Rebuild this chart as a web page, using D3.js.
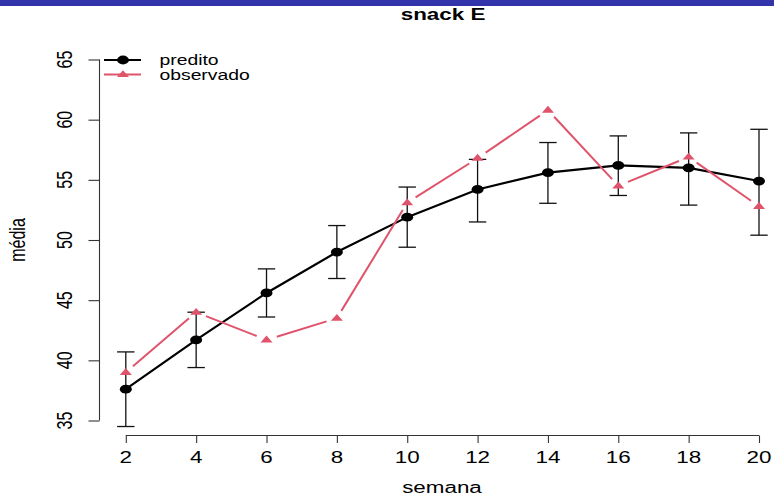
<!DOCTYPE html>
<html>
<head>
<meta charset="utf-8">
<script src="https://cdn.jsdelivr.net/npm/d3@7"></script>
<style>
  body { margin: 0; background: #fff; }
  svg { display: block; font-family: "Liberation Sans", Arial, Helvetica, sans-serif; }
</style>
</head>
<body>
<div id="chart"></div>
<script>
// data
const semana = [2, 4, 6, 8, 10, 12, 14, 16, 18, 20];
const predito = [37.6, 41.7, 45.6, 49.0, 51.9, 54.2, 55.6, 56.2, 56.0, 54.9];
const observado = [39.0, 44.0, 41.7, 43.5, 53.1, 56.8, 60.8, 54.5, 56.9, 52.8];
const inferior = [34.5, 39.4, 43.6, 46.8, 49.4, 51.5, 53.05, 53.7, 52.9, 50.4];
const superior = [40.7, 44.0, 47.6, 51.2, 54.4, 56.7, 58.1, 58.65, 58.9, 59.2];
const yTicks = [35, 40, 45, 50, 55, 60, 65];

const width = 774, height = 495;
const sx = 1.4; // the picture is stretched sideways
const red = "#DF536B";

const svg = d3.select("#chart").append("svg")
    .attr("width", width)
    .attr("height", height);

// blue strip on top
svg.append("rect").attr("x", 0).attr("y", 0).attr("width", width).attr("height", 6).attr("fill", "#3333AA");

const x = d3.scaleLinear().domain([2, 20]).range([125.8, 759]);
const y = d3.scaleLinear().domain([35, 65]).range([420.5, 59.5]);

function label(txt, px, py, size, opts = {}) {
    const t = svg.append("text")
        .attr("transform", `translate(${px},${py}) scale(${opts.sx || sx},1)` + (opts.rot ? " rotate(-90)" : ""))
        .attr("text-anchor", opts.anchor || "middle")
        .attr("font-size", size)
        .attr("fill", "#000")
        .text(txt);
    if (opts.bold) t.attr("font-weight", "bold");
    return t;
}

// title
label("snack E", 443, 20, 16, { bold: true });

// axes
const xAxis = svg.append("g").attr("transform", "translate(0,435.5)")
    .call(d3.axisBottom(x).tickValues(semana).tickSize(7.5).tickFormat(""));
const yAxis = svg.append("g").attr("transform", "translate(99.5,0)")
    .call(d3.axisLeft(y).tickValues(yTicks).tickSize(11).tickFormat(""));
[xAxis, yAxis].forEach(a => {
    a.select(".domain").attr("stroke", "#333").attr("stroke-width", 1.1)
        .attr("d", a === xAxis ? `M${x(2)},0H${x(20)}` : `M0,${y(35)}V${y(65)}`);
    a.selectAll(".tick line").attr("stroke", "#333").attr("stroke-width", 1.1);
});

semana.forEach(s => label(String(s), x(s), 463, 16));
yTicks.forEach(v => label(String(v), 71.5, y(v), 16, { rot: true }));

label("semana", 442, 493, 16);
label("média", 25, 240, 16, { rot: true });

// error bars
const cap = 8.7;
semana.forEach((s, i) => {
    const g = svg.append("g").attr("stroke", "#111").attr("stroke-width", 1.3).attr("fill", "none");
    g.append("line").attr("x1", x(s)).attr("x2", x(s)).attr("y1", y(inferior[i])).attr("y2", y(superior[i]));
    g.append("line").attr("x1", x(s) - cap).attr("x2", x(s) + cap).attr("y1", y(inferior[i])).attr("y2", y(inferior[i]));
    g.append("line").attr("x1", x(s) - cap).attr("x2", x(s) + cap).attr("y1", y(superior[i])).attr("y2", y(superior[i]));
});

// predito: line through points
svg.append("path")
    .datum(semana.map((s, i) => [x(s), y(predito[i])]))
    .attr("d", d3.line())
    .attr("fill", "none").attr("stroke", "#000").attr("stroke-width", 2.2);

// observado: line with gaps around points (type "b")
const gap = 8;
const obsPts = semana.map((s, i) => [x(s), y(observado[i])]);
for (let i = 0; i < obsPts.length - 1; i++) {
    const [x0, y0] = obsPts[i], [x1, y1] = obsPts[i + 1];
    const ux = (x1 - x0) / sx, uy = y1 - y0;
    const len = Math.hypot(ux, uy);
    const fx = ux / len * gap * sx, fy = uy / len * gap;
    svg.append("line")
        .attr("x1", x0 + fx).attr("y1", y0 + fy)
        .attr("x2", x1 - fx).attr("y2", y1 - fy)
        .attr("stroke", red).attr("stroke-width", 2);
}

function tri(cx, cy) {
    return `M${cx},${cy - 4.3}L${cx + 6},${cy + 2.6}L${cx - 6},${cy + 2.6}Z`;
}

svg.selectAll("ellipse.pred").data(semana).enter().append("ellipse")
    .attr("cx", s => x(s)).attr("cy", (s, i) => y(predito[i]))
    .attr("rx", 6).attr("ry", 4.4).attr("fill", "#000");

svg.selectAll("path.obs").data(semana).enter().append("path")
    .attr("d", (s, i) => tri(x(s), y(observado[i])))
    .attr("fill", red);

// legend
const lg = [{ name: "predito", color: "#000", yy: 60 }, { name: "observado", color: red, yy: 74.5 }];
lg.forEach(d => {
    svg.append("line").attr("x1", 104).attr("x2", 141).attr("y1", d.yy).attr("y2", d.yy)
        .attr("stroke", d.color).attr("stroke-width", 2);
    if (d.name === "predito") {
        svg.append("ellipse").attr("cx", 123).attr("cy", d.yy).attr("rx", 6).attr("ry", 4.4).attr("fill", "#000");
    } else {
        svg.append("path").attr("d", tri(123, d.yy)).attr("fill", red);
    }
    label(d.name, 159.5, d.yy + 5, 14, { anchor: "start", sx: 1.38 });
});
</script>
</body>
</html>
